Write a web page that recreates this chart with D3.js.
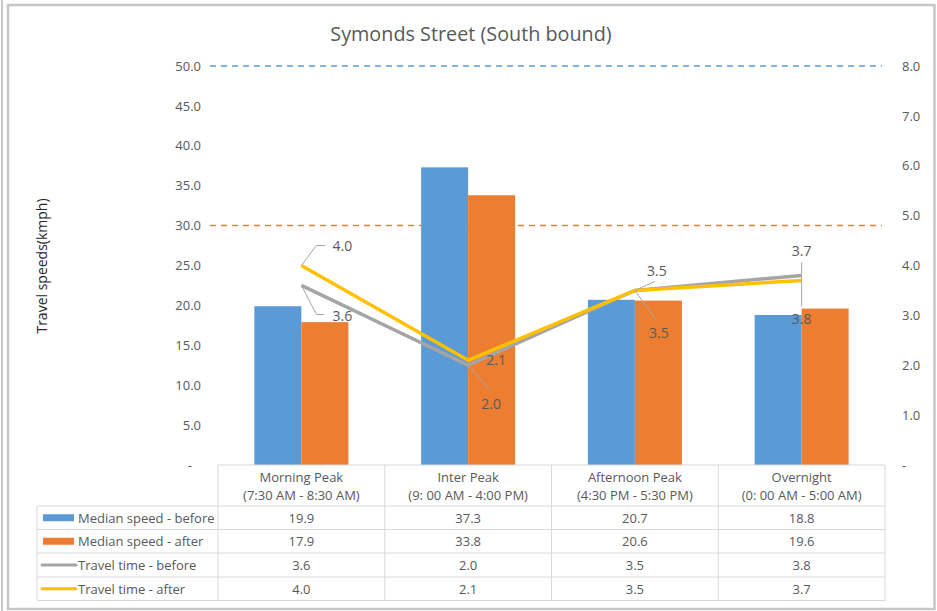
<!DOCTYPE html>
<html><head><meta charset="utf-8">
<script src="https://cdn.jsdelivr.net/npm/d3@7"></script>
<style>
html,body{margin:0;padding:0;background:#fff;}
text{font-family:"Open Sans",sans-serif;}
</style></head>
<body>
<svg id="chart" width="937" height="611"></svg>
<script>
// ---- data ----
const categories = ["Morning Peak", "Inter Peak", "Afternoon Peak", "Overnight"];
const timeRanges = ["(7:30 AM - 8:30 AM)", "(9: 00 AM - 4:00 PM)", "(4:30 PM - 5:30 PM)", "(0: 00 AM - 5:00 AM)"];
const speedBefore = [19.9, 37.3, 20.7, 18.8];
const speedAfter = [17.9, 33.8, 20.6, 19.6];
const timeBefore = [3.6, 2.0, 3.5, 3.8];
const timeAfter = [4.0, 2.1, 3.5, 3.7];
const seriesNames = ["Median speed - before", "Median speed - after", "Travel time - before", "Travel time - after"];
const leftTicks = [0, 5, 10, 15, 20, 25, 30, 35, 40, 45, 50];
const rightTicks = [0, 1, 2, 3, 4, 5, 6, 7, 8];
const refLines = [50, 30];

const colors = ["#5b9bd5", "#ed7d31", "#a5a5a5", "#ffc000"];
const svg = d3.select("#chart");

// outer frame
svg.append("line").attr("x1",2).attr("x2",2).attr("y1",0).attr("y2",611).attr("stroke","#c8c8c8").attr("stroke-width",2);
svg.append("rect").attr("x",8).attr("y",5).attr("width",926.5).attr("height",604)
  .attr("fill","#fff").attr("stroke","#c6c6c6").attr("stroke-width",2.5);

const plotL = 218, plotR = 885, plotT = 66, plotB = 465;
const x = d3.scaleBand().domain(categories).range([plotL, plotR]).paddingInner(0).paddingOuter(0);
const inner = d3.scaleBand().domain([0,1]).range([0, x.bandwidth()]).paddingInner(0).paddingOuter(0.774);
const yL = d3.scaleLinear().domain([0, 50]).range([plotB, plotT]);
const yR = d3.scaleLinear().domain([0, 8]).range([plotB, plotT]);

// title
svg.append("text").attr("x", 471).attr("y", 41).attr("text-anchor","middle")
  .attr("font-size", 19.8).attr("fill","#595959").text("Symonds Street (South bound)");

// axis title
svg.append("text").attr("transform","translate(47,266) rotate(-90)").attr("text-anchor","middle")
  .attr("font-size", 14).attr("fill","#262626").text("Travel speeds(kmph)");

// axes
const fmt = d => d === 0 ? "-" : d.toFixed(1);
const gL = svg.append("g").attr("transform", `translate(${plotL},0)`)
  .call(d3.axisLeft(yL).tickValues(leftTicks).tickFormat(fmt).tickSize(0).tickPadding(17));
gL.select(".domain").remove();
gL.selectAll("text").attr("font-size",13).attr("fill","#595959").attr("font-family","Open Sans")
  .attr("dx", d => d === 0 ? -9 : 0);
const gR = svg.append("g").attr("transform", `translate(${plotR},0)`)
  .call(d3.axisRight(yR).tickValues(rightTicks).tickFormat(fmt).tickSize(0).tickPadding(17));
gR.select(".domain").remove();
gR.selectAll("text").attr("font-size",13).attr("fill","#595959").attr("font-family","Open Sans");

// reference dashed lines
svg.selectAll(".ref").data(refLines).enter().append("line")
  .attr("x1", 210).attr("x2", 882).attr("y1", d => yL(d)).attr("y2", d => yL(d))
  .attr("stroke", (d,i) => i === 0 ? colors[0] : colors[1]).attr("stroke-width", 1.5)
  .attr("stroke-dasharray", "6,5");

// bars
[speedBefore, speedAfter].forEach((vals, s) => {
  svg.append("g").selectAll("rect").data(vals).enter().append("rect")
    .attr("x", (d,i) => x(categories[i]) + inner(s))
    .attr("width", inner.bandwidth())
    .attr("y", d => yL(d)).attr("height", d => plotB - yL(d))
    .attr("fill", colors[s]);
});

// lines
const cx = i => x(categories[i]) + x.bandwidth()/2;
[timeBefore, timeAfter].forEach((vals, s) => {
  const line = d3.line().x((d,i) => cx(i)).y(d => yR(d));
  svg.append("path").datum(vals).attr("d", line).attr("fill","none")
    .attr("stroke", colors[2+s]).attr("stroke-width", 3.5).attr("stroke-linejoin","round");
});

// data labels (layout offsets relative to point)
const labelLayout = {
  before: [
    {lead:[[15,29],[23,29]], tx:41, ty:30},
    {lead:[[0,0],[21,24]], tx:23, ty:38},
    {lead:[[0,0],[20,28]], tx:24, ty:42},
    {lead:[[0,0],[0,31]], tx:0, ty:43}
  ],
  after: [
    {lead:[[15,-20],[24,-20]], tx:41, ty:-20},
    {lead:null, tx:28, ty:-1},
    {lead:[[0,0],[20,-9]], tx:22, ty:-20},
    {lead:[[0,-6],[0,-18]], tx:0, ty:-30}
  ]
};
function drawLabels(vals, layout) {
  vals.forEach((v,i) => {
    const px = cx(i), py = yR(v), L = layout[i];
    if (L.lead) {
      const pts = [[px,py]].concat(L.lead.map(p => [px+p[0], py+p[1]]));
      if (L.lead[0][0] === 0 && L.lead[0][1] !== 0) pts.shift();
      svg.append("path").attr("d", d3.line()(pts)).attr("fill","none")
        .attr("stroke","#a6a6a6").attr("stroke-width",1);
    }
    svg.append("text").attr("x", px + L.tx).attr("y", py + L.ty)
      .attr("text-anchor","middle").attr("dominant-baseline","central")
      .attr("font-size",14).attr("fill","#595959").text(v.toFixed(1));
  });
}
drawLabels(timeBefore, labelLayout.before);
drawLabels(timeAfter, labelLayout.after);

// data table
const tblL = 37, hdrT = 465;
const rowYs = [506, 529.5, 553, 577, 600.5];
const grid = "#d9d9d9";
const tg = svg.append("g");
tg.append("line").attr("x1",plotL).attr("x2",plotR).attr("y1",hdrT).attr("y2",hdrT).attr("stroke",grid);
rowYs.forEach(y => tg.append("line").attr("x1",tblL).attr("x2",plotR).attr("y1",y).attr("y2",y).attr("stroke",grid));
tg.append("line").attr("x1",tblL).attr("x2",tblL).attr("y1",rowYs[0]).attr("y2",rowYs[4]).attr("stroke",grid);
const colEdges = categories.map(c => x(c)).concat([plotR]);
colEdges.forEach(xe => tg.append("line").attr("x1",xe).attr("x2",xe).attr("y1",hdrT).attr("y2",rowYs[4]).attr("stroke",grid));
categories.forEach((c,i) => {
  tg.append("text").attr("x",cx(i)).attr("y",477).attr("text-anchor","middle").attr("dominant-baseline","central")
    .attr("font-size",13).attr("fill","#595959").text(c);
  tg.append("text").attr("x",cx(i)).attr("y",495).attr("text-anchor","middle").attr("dominant-baseline","central")
    .attr("font-size",13).attr("fill","#595959").text(timeRanges[i]);
});
const allSeries = [speedBefore, speedAfter, timeBefore, timeAfter];
allSeries.forEach((vals, s) => {
  const ym = (rowYs[s] + rowYs[s+1]) / 2;
  if (s < 2) {
    tg.append("rect").attr("x",43).attr("y",ym-3.5).attr("width",31).attr("height",7).attr("fill",colors[s]);
  } else {
    tg.append("line").attr("x1",42).attr("x2",76).attr("y1",ym).attr("y2",ym)
      .attr("stroke",colors[s]).attr("stroke-width",3).attr("stroke-linecap","round");
  }
  tg.append("text").attr("x",78).attr("y",ym).attr("dominant-baseline","central")
    .attr("font-size",13).attr("fill","#595959").text(seriesNames[s]);
  vals.forEach((v,i) => {
    tg.append("text").attr("x",cx(i)).attr("y",ym).attr("text-anchor","middle").attr("dominant-baseline","central")
      .attr("font-size",13).attr("fill","#595959").text(v.toFixed(1));
  });
});
</script>
</body></html>
